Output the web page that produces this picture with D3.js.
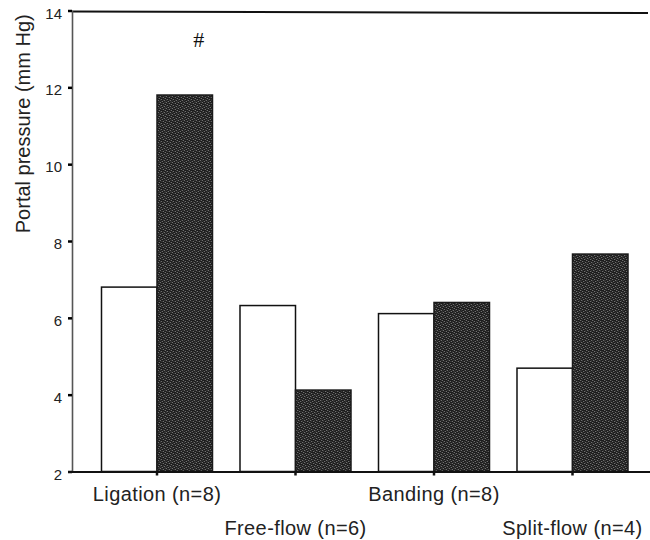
<!DOCTYPE html>
<html>
<head>
<meta charset="utf-8">
<script src="https://cdn.jsdelivr.net/npm/d3@7"></script>
<style>
  html, body { margin: 0; padding: 0; background: #fff; }
  svg { display: block; }
</style>
</head>
<body>
<svg id="chart" width="650" height="540"></svg>
<script>
// ---- data ----
const categories = ["Ligation (n=8)", "Free-flow (n=6)", "Banding (n=8)", "Split-flow (n=4)"];
const seriesKeys = ["before", "after"];
const beforeValues = [6.8, 6.32, 6.11, 4.69];
const afterValues = [11.8, 4.12, 6.4, 7.66];
const yTicks = [2, 4, 6, 8, 10, 12, 14];
const yTitle = "Portal pressure (mm Hg)";
const markers = [{ category: "Ligation (n=8)", text: "#", value: 13.05 }];

// ---- layout ----
const svg = d3.select("#chart");
const plotLeft = 72, plotRight = 648;
const y = d3.scaleLinear().domain([2, 14]).range([471.5, 10.5]);
const x0 = d3.scaleBand().domain(categories).range([87.75, 641.75]).paddingInner(0).paddingOuter(0);
const x1 = d3.scaleBand().domain(seriesKeys).range([0, x0.bandwidth()]).paddingInner(0).paddingOuter(0.2477);

// texture pattern for dark bars
const defs = svg.append("defs");
const pat = defs.append("pattern").attr("id", "dark").attr("patternUnits", "userSpaceOnUse")
  .attr("width", 6).attr("height", 6);
pat.append("rect").attr("width", 6).attr("height", 6).attr("fill", "#1c1c1c");
[[0,0],[3,1],[1,3],[4,4],[2,5],[5,2]].forEach(([a,b]) => {
  pat.append("rect").attr("x", a).attr("y", b).attr("width", 1).attr("height", 1).attr("fill", "#8c8c8c");
});
[[1,1],[4,0],[0,4],[3,3],[5,5]].forEach(([a,b]) => {
  pat.append("rect").attr("x", a).attr("y", b).attr("width", 1).attr("height", 1).attr("fill", "#3c3c3c");
});

const rows = categories.map((c, i) => ({ category: c, before: beforeValues[i], after: afterValues[i] }));

// bars
const g = svg.append("g");
const groups = g.selectAll("g.grp").data(rows).join("g")
  .attr("class", "grp")
  .attr("transform", d => `translate(${x0(d.category)},0)`);

groups.selectAll("rect").data(d => seriesKeys.map(k => ({ key: k, value: d[k] }))).join("rect")
  .attr("x", d => x1(d.key))
  .attr("y", d => y(d.value))
  .attr("width", x1.bandwidth())
  .attr("height", d => y(2) - y(d.value))
  .attr("fill", d => d.key === "before" ? "#ffffff" : "url(#dark)")
  .attr("stroke", d => d.key === "before" ? "#111" : "#1a1a1a")
  .attr("stroke-width", 1.5);

// top frame line
svg.append("line")
  .attr("x1", plotLeft).attr("x2", plotRight)
  .attr("y1", y(14) + 1).attr("y2", y(14) + 2.5)
  .attr("stroke", "#111").attr("stroke-width", 2);

// y axis
const yAxis = svg.append("g")
  .attr("transform", `translate(${plotLeft},0)`)
  .call(d3.axisLeft(y).tickValues(yTicks).tickSize(4).tickSizeOuter(0).tickPadding(6));
yAxis.select(".domain").attr("stroke", "#555").attr("stroke-width", 1.6);
yAxis.selectAll(".tick line").attr("stroke", "#000").attr("stroke-width", 2.5);
yAxis.selectAll(".tick text")
  .attr("font-family", "Liberation Sans, Arial, sans-serif")
  .attr("font-size", 15).attr("fill", "#222").attr("dy", "0.5em");

// x axis
const xAxis = svg.append("g")
  .attr("transform", `translate(0,${y(2)})`)
  .call(d3.axisBottom(x0).tickSize(4).tickSizeOuter(0).tickPadding(0));
xAxis.select(".domain").attr("d", `M${plotLeft - 4},0.5H${plotRight + 2}`)
  .attr("stroke", "#111").attr("stroke-width", 2);
xAxis.selectAll(".tick line").attr("stroke", "#111").attr("stroke-width", 2.5);
xAxis.selectAll(".tick text")
  .attr("font-family", "Liberation Sans, Arial, sans-serif")
  .attr("font-size", 20).attr("fill", "#222")
  .attr("letter-spacing", 0.4)
  .attr("dy", null)
  .attr("y", (d, i) => i % 2 === 0 ? 29 : 63);

// y title
svg.append("text")
  .attr("transform", `translate(30,${(y(14) + y(8)) / 2 - 2}) rotate(-90)`)
  .attr("text-anchor", "middle")
  .attr("font-family", "Liberation Sans, Arial, sans-serif")
  .attr("font-size", 20).attr("fill", "#222")
  .text(yTitle);

// significance marker
svg.selectAll("text.mark").data(markers).join("text")
  .attr("class", "mark")
  .attr("x", d => x0(d.category) + x1("after") + x1.bandwidth() * 0.75)
  .attr("y", d => y(d.value))
  .attr("text-anchor", "middle")
  .attr("font-family", "Liberation Serif, Times New Roman, serif")
  .attr("font-size", 22).attr("fill", "#111")
  .text(d => d.text);
</script>
</body>
</html>
